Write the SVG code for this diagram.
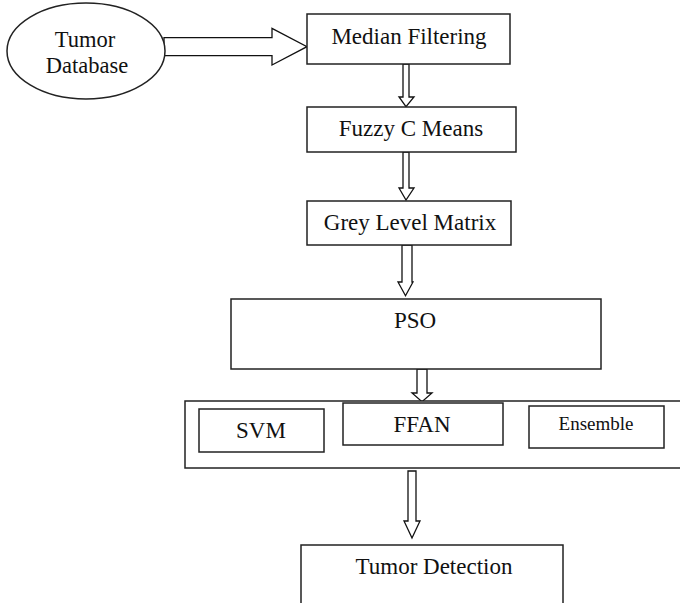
<svg xmlns="http://www.w3.org/2000/svg" width="680" height="603" viewBox="0 0 680 603">
  <style>
    .box { fill: #fff; stroke: #222; stroke-width: 1.5; }
    .arrow { fill: #fff; stroke: #111; stroke-width: 1.3; stroke-linejoin: miter; }
    .lbl { font-family: "Liberation Serif", "Times New Roman", serif; font-size: 23px; fill: #111; text-anchor: middle; }
    .oval { font-size: 22.5px; }
    .small { font-size: 19px; }
  </style>
  <rect width="680" height="603" fill="#fff"/>

  <!-- block arrows -->
  <g id="connectors">
    <polygon class="arrow" points="164,37.7 272,37.7 272,28.3 307,46.7 272,65 272,55.7 164,55.7"/>
    <polygon class="arrow" points="403,64 409,64 409,97 414,97 406,106.7 399,97 403,97"/>
    <polygon class="arrow" points="403,152 409,152 409,188 414,188 406,200 399,188 403,188"/>
    <polygon class="arrow" points="402,245 412,245 412,282 413,282 405.5,295.7 398,282 402,282"/>
    <polygon class="arrow" points="417,369 427,369 427,393 432,393 422,401.7 412,393 417,393"/>
    <polygon class="arrow" points="408,471 416,471 416,521 420,521 412,538 404,521 408,521"/>
  </g>

  <g id="tumor-database">
    <ellipse class="box" cx="86" cy="51" rx="79" ry="48"/>
    <text class="lbl oval" x="85" y="46.5">Tumor</text>
    <text class="lbl oval" x="87" y="73">Database</text>
  </g>

  <g id="median-filtering">
    <rect class="box" x="307" y="14" width="203" height="50"/>
    <text class="lbl" x="409" y="44">Median Filtering</text>
  </g>

  <g id="fuzzy-c-means">
    <rect class="box" x="307" y="107" width="209" height="45"/>
    <text class="lbl" x="411" y="136">Fuzzy C Means</text>
  </g>

  <g id="grey-level-matrix">
    <rect class="box" x="307" y="201" width="204" height="44"/>
    <text class="lbl" x="410" y="230">Grey Level Matrix</text>
  </g>

  <g id="pso">
    <rect class="box" x="231" y="299" width="370" height="70"/>
    <text class="lbl" x="415" y="328">PSO</text>
  </g>

  <g id="classifiers">
    <rect class="box" x="185" y="401" width="505" height="67"/>
    <g id="svm">
      <rect class="box" x="199" y="409" width="125" height="43"/>
      <text class="lbl" x="261" y="438">SVM</text>
    </g>
    <g id="ffan">
      <rect class="box" x="343" y="403" width="160" height="42"/>
      <text class="lbl" x="422" y="432">FFAN</text>
    </g>
    <g id="ensemble">
      <rect class="box" x="529" y="406" width="135" height="42"/>
      <text class="lbl small" x="596" y="430">Ensemble</text>
    </g>
  </g>

  <g id="tumor-detection">
    <rect class="box" x="301" y="545" width="262" height="70"/>
    <text class="lbl" x="434" y="574">Tumor Detection</text>
  </g>
</svg>
